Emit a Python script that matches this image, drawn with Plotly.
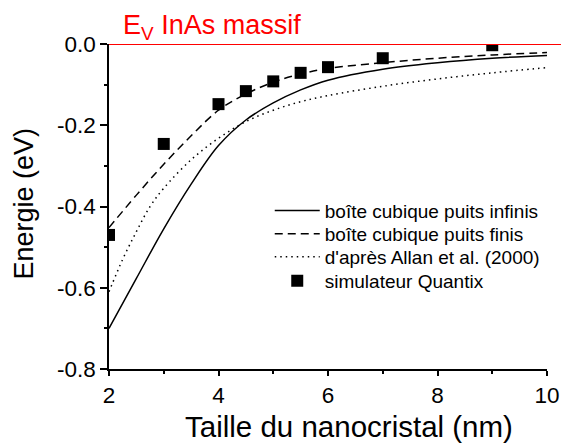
import plotly.graph_objects as go

# ---- data ----
x_inf = [2.0, 2.5, 3.0, 3.5, 4.0, 4.5, 5.0, 5.5, 6.0, 7.0, 8.0, 9.0, 10.0]
y_inf = [-0.700, -0.577, -0.455, -0.345, -0.250, -0.187, -0.145, -0.113, -0.089, -0.062, -0.046, -0.035, -0.028]

x_fin = [2.0, 2.5, 3.0, 3.5, 4.0, 4.5, 5.0, 5.5, 6.0, 7.0, 8.0, 9.0, 10.0]
y_fin = [-0.452, -0.372, -0.296, -0.226, -0.163, -0.123, -0.094, -0.074, -0.060, -0.046, -0.035, -0.027, -0.021]

x_allan = [2.0, 2.25, 2.5, 2.75, 3.0, 3.5, 4.0, 4.5, 5.0, 5.5, 6.0, 7.0, 8.0, 9.0, 10.0]
y_allan = [-0.610, -0.530, -0.462, -0.400, -0.355, -0.285, -0.232, -0.191, -0.163, -0.142, -0.127, -0.104, -0.086, -0.071, -0.058]

x_quantix = [2.0, 3.0, 4.0, 4.5, 5.0, 5.5, 6.0, 7.0, 9.0]
y_quantix = [-0.470, -0.246, -0.148, -0.116, -0.092, -0.071, -0.057, -0.035, -0.003]

names = ["boîte cubique puits infinis", "boîte cubique puits finis",
         "d'après Allan et al. (2000)", "simulateur Quantix"]

y_tickvals = [0.0, -0.2, -0.4, -0.6, -0.8]
y_ticktext = ["0.0", "-0.2", "-0.4", "-0.6", "-0.8"]
x_tickvals = [2, 4, 6, 8, 10]
x_ticktext = ["2", "4", "6", "8", "10"]

FONT = "Liberation Sans, Arial, sans-serif"

fig = go.Figure()
fig.add_trace(go.Scatter(x=x_inf, y=y_inf, mode="lines", name=names[0], legend="legend",
                         line=dict(color="black", width=1.5, shape="spline")))
fig.add_trace(go.Scatter(x=x_fin, y=y_fin, mode="lines", name=names[1], legend="legend2",
                         line=dict(color="black", width=1.5, dash="8px,5px", shape="spline")))
fig.add_trace(go.Scatter(x=x_allan, y=y_allan, mode="lines", name=names[2], legend="legend3",
                         line=dict(color="black", width=1.5, dash="1.5px,4px", shape="spline")))
fig.add_trace(go.Scatter(x=x_quantix, y=y_quantix, mode="markers", name=names[3], legend="legend4",
                         marker=dict(symbol="square", size=12, color="black"),
                         cliponaxis=True))

fig.add_shape(type="line", xref="paper", yref="y", x0=0, x1=1.05, y0=0, y1=0,
              line=dict(color="#ff0000", width=2), layer="above")

fig.add_annotation(text="E<sub>V</sub> InAs massif", xref="paper", yref="paper",
                   x=0.027, y=1, xanchor="left", yanchor="bottom", yshift=-2,
                   showarrow=False, font=dict(family=FONT, size=27, color="#ff0000"))

# axis titles as annotations for exact placement
fig.add_annotation(text="Taille du nanocristal (nm)", xref="paper", yref="paper",
                   x=0.548, y=-0.176, xanchor="center", yanchor="middle",
                   showarrow=False, font=dict(family=FONT, size=29.5, color="black"))
fig.add_annotation(text="Energie (eV)", xref="paper", yref="paper", textangle=-90,
                   x=-0.194, y=0.509, xanchor="center", yanchor="middle",
                   showarrow=False, font=dict(family=FONT, size=27, color="black"))

leg_common = dict(x=0.367, xanchor="left", yanchor="middle",
                  bgcolor="rgba(0,0,0,0)", borderwidth=0,
                  font=dict(size=19, family=FONT), itemwidth=45)

fig.update_layout(
    template="none",
    width=561, height=444,
    margin=dict(l=109, r=14, t=44, b=75, autoexpand=False),
    paper_bgcolor="white", plot_bgcolor="white",
    font=dict(family=FONT, color="black"),
    showlegend=True,
    legend=dict(y=0.487, **leg_common),
    legend2=dict(y=0.416, **leg_common),
    legend3=dict(y=0.345, **leg_common),
    legend4=dict(y=0.271, **leg_common),
)
fig.update_xaxes(range=[2, 10], showgrid=False, zeroline=False, automargin=False,
                 showline=True, linecolor="black", linewidth=1.5, mirror=False,
                 ticks="outside", ticklen=5, tickwidth=1.5, tickcolor="black",
                 tickvals=x_tickvals, ticktext=x_ticktext,
                 tickfont=dict(size=22.5, family=FONT),
                 minor=dict(dtick=1, tick0=1, ticks="outside", ticklen=3, tickwidth=1.5, tickcolor="black"))
fig.update_yaxes(range=[-0.8, 0], showgrid=False, zeroline=False, automargin=False,
                 showline=True, linecolor="black", linewidth=1.5, mirror=False,
                 ticks="outside", ticklen=7, tickwidth=1.5, tickcolor="black",
                 tickvals=y_tickvals, ticktext=y_ticktext,
                 tickfont=dict(size=22.5, family=FONT),
                 minor=dict(dtick=0.1, tick0=-0.1, ticks="outside", ticklen=3, tickwidth=1.5, tickcolor="black"))

fig.write_html("out.html", config={"displayModeBar": False},
               post_script="document.body.style.margin='0';document.body.style.overflow='hidden';")
